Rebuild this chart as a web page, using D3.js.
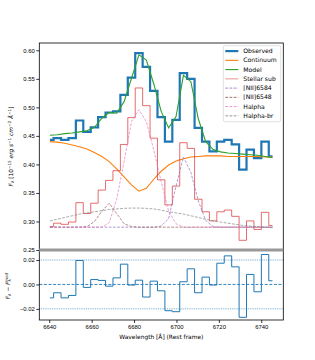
<!DOCTYPE html>
<html>
<head>
<meta charset="utf-8">
<script src="https://cdn.jsdelivr.net/npm/d3@7"></script>
<style>
  body { margin: 0; background: #fff; }
  svg { font-family: "DejaVu Sans", sans-serif; }
  .tick text { font-size: 5.9px; fill: #000; }
  .tick line, .domain { stroke: #000; stroke-width: 0.8; }
</style>
</head>
<body>
<div id="chart"></div>
<script>
// wavelengths of the binned spectrum (rest frame)
var wave = [6640.3, 6643.8, 6647.3, 6650.8, 6654.3, 6657.8, 6661.3, 6664.8, 6668.3, 6671.8,
  6675.3, 6678.8, 6682.3, 6685.8, 6689.3, 6692.8, 6696.3, 6699.8, 6703.3, 6706.8,
  6710.3, 6713.8, 6717.3, 6720.8, 6724.3, 6727.8, 6731.3, 6734.8, 6738.3, 6741.8, 6745.3];

var observed = [0.443, 0.446, 0.443, 0.446, 0.477, 0.457, 0.465, 0.483, 0.491, 0.493,
  0.522, 0.552, 0.595, 0.571, 0.529, 0.483, 0.440, 0.478, 0.560, 0.550,
  0.464, 0.440, 0.423, 0.440, 0.443, 0.435, 0.391, 0.426, 0.411, 0.440, 0.414];

var continuum = [0.440, 0.439, 0.437, 0.434, 0.431, 0.427, 0.421, 0.414, 0.405, 0.392,
  0.378, 0.364, 0.353, 0.358, 0.374, 0.388, 0.399, 0.406, 0.410, 0.413,
  0.414, 0.415, 0.415, 0.415, 0.414, 0.414, 0.414, 0.414, 0.414, 0.413, 0.413];

var model = [0.451, 0.452, 0.454, 0.455, 0.457, 0.459, 0.465, 0.481, 0.491, 0.490,
  0.510, 0.551, 0.592, 0.583, 0.541, 0.493, 0.464, 0.484, 0.556, 0.545,
  0.480, 0.440, 0.426, 0.422, 0.420, 0.419, 0.418, 0.417, 0.416, 0.414, 0.412];

var stellarSub = [0.291, 0.297, 0.295, 0.299, 0.333, 0.314, 0.332, 0.355, 0.372, 0.389,
  0.435, 0.482, 0.534, 0.503, 0.446, 0.373, 0.329, 0.362, 0.438, 0.428,
  0.339, 0.317, 0.301, 0.317, 0.320, 0.309, 0.267, 0.301, 0.286, 0.316, 0.293];

var nii6584 = [0.290, 0.290, 0.290, 0.290, 0.290, 0.290, 0.290, 0.290, 0.290, 0.290,
  0.290, 0.290, 0.290, 0.290, 0.290, 0.292, 0.305, 0.362, 0.413, 0.386,
  0.336, 0.302, 0.291, 0.290, 0.290, 0.290, 0.290, 0.290, 0.290, 0.290, 0.290];

var nii6548 = [0.290, 0.290, 0.290, 0.290, 0.290, 0.291, 0.300, 0.318, 0.332, 0.314,
  0.296, 0.291, 0.290, 0.290, 0.290, 0.290, 0.290, 0.290, 0.290, 0.290,
  0.290, 0.290, 0.290, 0.290, 0.290, 0.290, 0.290, 0.290, 0.290, 0.290, 0.290];

var halpha = [0.290, 0.290, 0.290, 0.290, 0.290, 0.290, 0.290, 0.290, 0.298, 0.339,
  0.405, 0.475, 0.496, 0.475, 0.425, 0.370, 0.318, 0.296, 0.290, 0.290,
  0.290, 0.290, 0.290, 0.290, 0.290, 0.290, 0.290, 0.290, 0.290, 0.290, 0.290];

var halphaBr = [0.301, 0.304, 0.307, 0.310, 0.313, 0.315, 0.317, 0.319, 0.321, 0.322,
  0.323, 0.3235, 0.3235, 0.323, 0.322, 0.320, 0.317, 0.315, 0.313, 0.310,
  0.307, 0.304, 0.301, 0.299, 0.297, 0.295, 0.293, 0.292, 0.291, 0.290, 0.289];

var residual = [-0.011, -0.0068, -0.011, -0.009, 0.0196, -0.0024, 0.004, 0.0033, -0.0014, 0.0054,
  0.0166, -0.0005, 0.0035, -0.0103, 0.0027, -0.0052, -0.0215, -0.0223, 0.0022, 0.0128,
  -0.0068, 0.006, -0.0005, 0.0174, 0.0234, 0.0144, -0.0269, 0.0082, -0.006, 0.0245, 0.003];

var xTicks = [6640, 6660, 6680, 6700, 6720, 6740];
var yTicksMain = [0.25, 0.30, 0.35, 0.40, 0.45, 0.50, 0.55, 0.60];
var yTicksRes = [-0.02, 0.00, 0.02];

var width = 315, height = 360;
var left = 39.3, right = 283.3;
var mainTop = 43, mainBottom = 250, resBottom = 320;

var svg = d3.select('#chart').append('svg')
  .attr('width', width)
  .attr('height', height);

var x = d3.scaleLinear().domain([6635.3, 6750.4]).range([left, right]);
var y = d3.scaleLinear().domain([0.25, 0.6128]).range([mainBottom, mainTop]);
var yr = d3.scaleLinear().domain([-0.0291, 0.0282]).range([resBottom, mainBottom]);

function lineOf(vals, scale, curve) {
  return d3.line()
    .x(function (d, i) { return x(wave[i]); })
    .y(function (d) { return scale(d); })
    .curve(curve || d3.curveLinear)(vals);
}

// main panel
var plot = svg.append('g');

plot.append('path') // observed
  .attr('d', lineOf(observed, y, d3.curveStep))
  .attr('fill', 'none').attr('stroke', '#1f77b4').attr('stroke-width', 2.2);

plot.append('path') // continuum
  .attr('d', lineOf(continuum, y))
  .attr('fill', 'none').attr('stroke', '#ff7f0e').attr('stroke-width', 1.1);

plot.append('path') // model
  .attr('d', lineOf(model, y))
  .attr('fill', 'none').attr('stroke', '#2ca02c').attr('stroke-width', 1.1);

plot.append('path') // stellar subtracted
  .attr('d', lineOf(stellarSub, y, d3.curveStep))
  .attr('fill', 'none').attr('stroke', '#d62728').attr('stroke-opacity', 0.75).attr('stroke-width', 0.9);

var comps = [
  { vals: nii6584, color: '#9467bd' },
  { vals: nii6548, color: '#8c564b' },
  { vals: halpha, color: '#e377c2' },
  { vals: halphaBr, color: '#7f7f7f' }
];
comps.forEach(function (c) {
  plot.append('path')
    .attr('d', lineOf(c.vals, y))
    .attr('fill', 'none').attr('stroke', c.color).attr('stroke-opacity', 0.85)
    .attr('stroke-width', 0.8).attr('stroke-dasharray', '2.8,1.4');
});

svg.append('g')
  .attr('transform', 'translate(' + left + ',0)')
  .call(d3.axisLeft(y).tickValues(yTicksMain).tickFormat(d3.format('.2f')).tickSize(3).tickPadding(1.5))
  .call(function (g) { g.select('.domain').remove(); });

// residual panel
var res = svg.append('g');
[0.02, -0.02].forEach(function (v) {
  res.append('line')
    .attr('x1', left).attr('x2', right).attr('y1', yr(v)).attr('y2', yr(v))
    .attr('stroke', '#5d9ccb').attr('stroke-width', 0.9).attr('stroke-dasharray', '0.9,0.9');
});
res.append('line')
  .attr('x1', left).attr('x2', right).attr('y1', yr(0)).attr('y2', yr(0))
  .attr('stroke', '#1f77b4').attr('stroke-width', 0.9).attr('stroke-dasharray', '3,1.6');

res.append('path')
  .attr('d', lineOf(residual, yr, d3.curveStep))
  .attr('fill', 'none').attr('stroke', '#1f77b4').attr('stroke-width', 1);

svg.append('g')
  .attr('transform', 'translate(' + left + ',0)')
  .call(d3.axisLeft(yr).tickValues(yTicksRes).tickFormat(function (d) {
    return d3.format('.2f')(d).replace('-', '\u2212');
  }).tickSize(3).tickPadding(1.5))
  .call(function (g) { g.select('.domain').remove(); });

svg.append('g')
  .attr('transform', 'translate(0,' + resBottom + ')')
  .call(d3.axisBottom(x).tickValues(xTicks).tickFormat(d3.format('d')).tickSize(3).tickPadding(1.5))
  .call(function (g) { g.select('.domain').remove(); });

// frames
svg.append('rect')
  .attr('x', left).attr('y', mainTop).attr('width', right - left).attr('height', resBottom - mainTop)
  .attr('fill', 'none').attr('stroke', '#000').attr('stroke-width', 0.8);

// separator between panels
svg.append('line')
  .attr('x1', left).attr('x2', right).attr('y1', y(0.25)).attr('y2', y(0.25))
  .attr('stroke', '#999').attr('stroke-width', 3);

// legend
var legendLabels = ['Observed', 'Continuum', 'Model', 'Stellar sub', '[NII]6584', '[NII]6548', 'Halpha', 'Halpha-br'];
var legendColors = ['#1f77b4', '#ff7f0e', '#2ca02c', '#d62728', '#9467bd', '#8c564b', '#e377c2', '#7f7f7f'];
var legendDash = [null, null, null, null, '2.8,1.4', '2.8,1.4', '2.8,1.4', '2.8,1.4'];
var legendWidth = [2.2, 1.1, 1.1, 0.9, 0.8, 0.8, 0.8, 0.8];

var legend = svg.append('g').attr('transform', 'translate(223.3,45.7)');
legend.append('rect')
  .attr('width', 57.4).attr('height', 76)
  .attr('rx', 1.5)
  .attr('fill', '#fff').attr('fill-opacity', 0.8)
  .attr('stroke', '#ccc').attr('stroke-width', 0.6);

legendLabels.forEach(function (lab, i) {
  var ly = 5.4 + i * 9.25;
  legend.append('line')
    .attr('x1', 2).attr('x2', 15).attr('y1', ly).attr('y2', ly)
    .attr('stroke', legendColors[i]).attr('stroke-width', legendWidth[i])
    .attr('stroke-opacity', i === 3 ? 0.55 : 1)
    .attr('stroke-dasharray', legendDash[i]);
  legend.append('text')
    .attr('x', 20).attr('y', ly).attr('dy', '0.35em')
    .attr('font-size', 6.1)
    .text(lab);
});

// axis labels
svg.append('text')
  .attr('x', (left + right) / 2).attr('y', 338.5)
  .attr('text-anchor', 'middle').attr('font-size', 5.9)
  .text('Wavelength [\u00C5] (Rest frame)');

var yl = svg.append('text')
  .attr('transform', 'translate(13,146.5) rotate(-90)')
  .attr('text-anchor', 'middle').attr('font-size', 5.8);
yl.append('tspan').attr('font-style', 'italic').text('F');
yl.append('tspan').attr('font-size', 4.2).attr('dy', 1.3).text('\u03BB');
yl.append('tspan').attr('dy', -1.3).text(' [10');
yl.append('tspan').attr('font-size', 4.2).attr('dy', -2.2).text('\u221215');
yl.append('tspan').attr('dy', 2.2).attr('font-style', 'italic').text(' erg s');
yl.append('tspan').attr('font-size', 4.2).attr('dy', -2.2).text('\u22121');
yl.append('tspan').attr('dy', 2.2).attr('font-style', 'italic').text(' cm');
yl.append('tspan').attr('font-size', 4.2).attr('dy', -2.2).text('\u22122');
yl.append('tspan').attr('dy', 2.2).attr('font-style', 'italic').text(' \u00C5');
yl.append('tspan').attr('font-size', 4.2).attr('dy', -2.2).text('\u22121');
yl.append('tspan').attr('dy', 2.2).text(']');

var rl = svg.append('text')
  .attr('transform', 'translate(10,286) rotate(-90)')
  .attr('text-anchor', 'middle').attr('font-size', 5.8);
rl.append('tspan').attr('font-style', 'italic').text('F');
rl.append('tspan').attr('font-size', 4.2).attr('dy', 1.3).text('\u03BB');
rl.append('tspan').attr('dy', -1.3).text(' \u2212 ');
rl.append('tspan').attr('font-style', 'italic').text('F');
rl.append('tspan').attr('font-size', 4.2).attr('dy', 1.3).text('\u03BB');
rl.append('tspan').attr('font-size', 4.2).attr('font-style', 'italic').attr('dx', -3).attr('dy', -3.6).text('mod');
</script>
</body>
</html>
